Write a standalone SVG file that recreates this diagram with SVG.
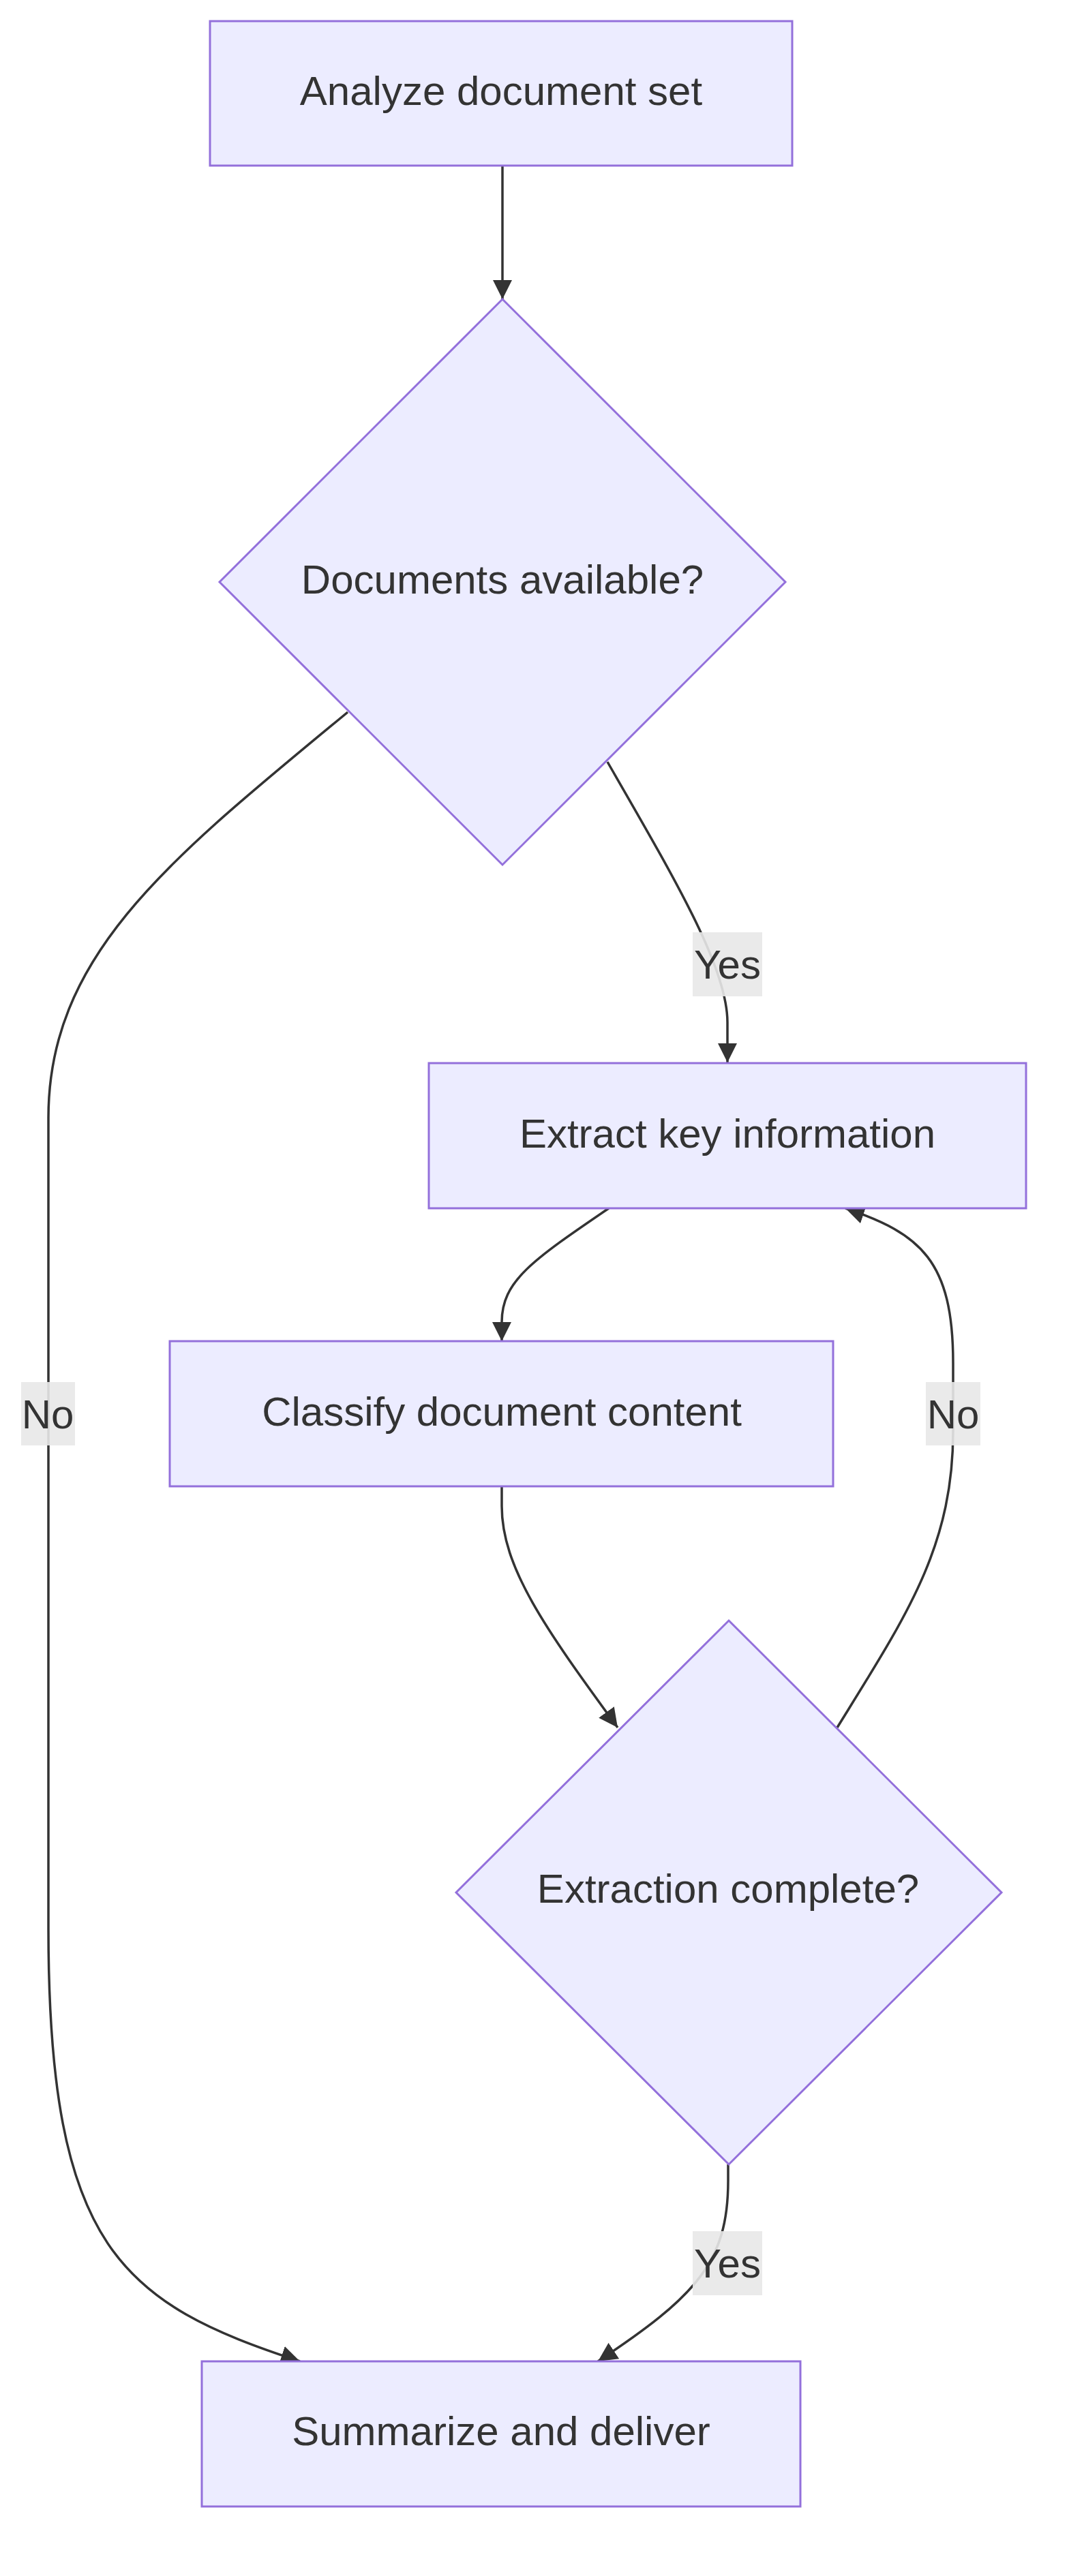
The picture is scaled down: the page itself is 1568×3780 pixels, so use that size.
<svg xmlns="http://www.w3.org/2000/svg" width="1568" height="3780" viewBox="0 0 1568 3780">
<style>
.n{fill:#ECECFF;stroke:#9370DB;stroke-width:3}
.t{font-family:"Liberation Sans",Arial,sans-serif;font-size:60px;fill:#333;text-anchor:middle;dominant-baseline:central}
.e{fill:none;stroke:#333;stroke-width:3.5}
.lb{fill:#e8e8e8;opacity:0.9}
</style>
<defs>
<marker id="ah" viewBox="0 0 10 10" refX="10" refY="5" markerWidth="28" markerHeight="28" markerUnits="userSpaceOnUse" orient="auto">
<path d="M0,0 L10,5 L0,10 z" fill="#333"/>
</marker>
</defs>
<rect x="0" y="0" width="1568" height="3780" fill="#fff"/>
<g id="connectors">
<path class="e" d="M737,243 L737,439" marker-end="url(#ah)"/>
<path class="e" d="M891,1118 C990,1290 1067,1420 1067,1500 L1067,1559" marker-end="url(#ah)"/>
<path class="e" d="M510,1045 C250,1260 71,1400 71,1640 L71,2830 C71,3300 180,3380 440,3465" marker-end="url(#ah)"/>
<path class="e" d="M893,1773 C780,1850 736,1880 736,1940 L736,1968" marker-end="url(#ah)"/>
<path class="e" d="M736,2181 L736,2210 C736,2300 800,2390 906,2535" marker-end="url(#ah)"/>
<path class="e" d="M1228,2535 C1330,2370 1398,2270 1398,2100 L1398,2000 C1398,1850 1350,1810 1240,1773" marker-end="url(#ah)"/>
<path class="e" d="M1068,3176 L1068,3200 C1068,3320 1020,3370 877,3465" marker-end="url(#ah)"/>
<rect class="lb" x="1016" y="1368" width="102" height="94"/>
<text class="t" x="1067" y="1415">Yes</text>
<rect class="lb" x="31" y="2028" width="79" height="93"/>
<text class="t" x="70" y="2075">No</text>
<rect class="lb" x="1358" y="2028" width="80" height="93"/>
<text class="t" x="1398" y="2075">No</text>
<rect class="lb" x="1016" y="3274" width="102" height="94"/>
<text class="t" x="1067" y="3321">Yes</text>
</g>
<g id="analyze"><rect class="n" x="308" y="31" width="854" height="212"/><text class="t" x="735" y="133">Analyze document set</text></g>
<g id="available"><polygon class="n" points="737,439 1152,854 737,1269 322,854"/><text class="t" x="737" y="850">Documents available?</text></g>
<g id="extract"><rect class="n" x="629" y="1560" width="876" height="213"/><text class="t" x="1067" y="1663">Extract key information</text></g>
<g id="classify"><rect class="n" x="249" y="1968" width="973" height="213"/><text class="t" x="736" y="2071">Classify document content</text></g>
<g id="complete"><polygon class="n" points="1069,2378 1469,2777 1069,3176 669,2777"/><text class="t" x="1068" y="2771">Extraction complete?</text></g>
<g id="summarize"><rect class="n" x="296" y="3465" width="878" height="213"/><text class="t" x="735" y="3567">Summarize and deliver</text></g>
</svg>
